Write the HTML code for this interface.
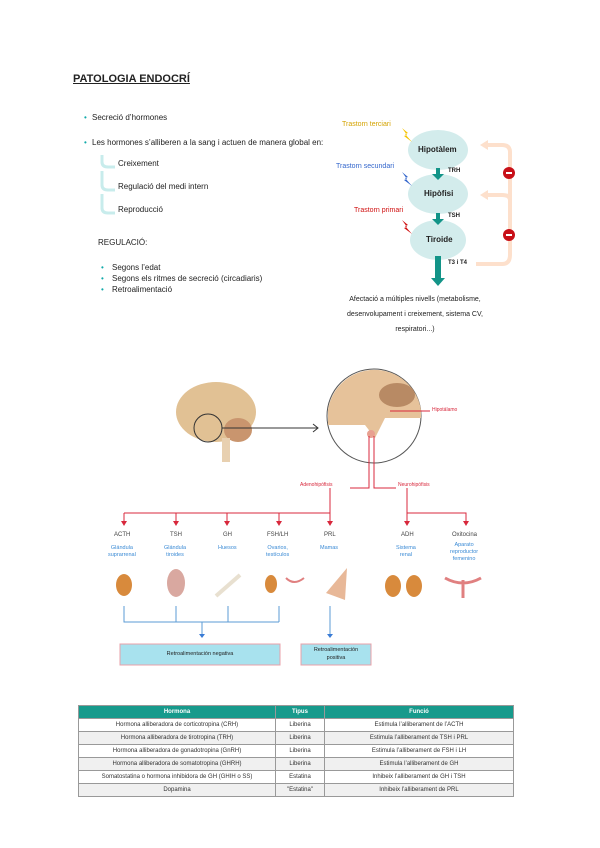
<!DOCTYPE html>
<html><head><meta charset="utf-8"><style>
body{margin:0;background:#fff;font-family:"Liberation Sans",sans-serif;}
.p{position:relative;width:600px;height:848px;overflow:hidden;}
.t{position:absolute;white-space:nowrap;color:#222;font-size:8px;}
table{position:absolute;left:78px;top:705px;width:436px;border-collapse:collapse;font-size:6px;}
td,th{border:1px solid #999;height:12px;padding:0;text-align:center;color:#333;}
th{background:#179a8c;color:#fff;font-weight:bold;}
tr:nth-child(odd) td{background:#f0f0f0;}
</style></head><body><div class="p">
<div class="t" style="left:73px;top:73px;font-size:11px;font-weight:bold;text-decoration:underline">PATOLOGIA ENDOCRÍ</div>
<div class="t" style="left:84px;top:113px;color:#1aa;">•</div><div class="t" style="left:92px;top:113px">Secreció d’hormones</div>
<div class="t" style="left:84px;top:138px;color:#1aa;">•</div><div class="t" style="left:92px;top:138px">Les hormones s’alliberen a la sang i actuen de manera global en:</div>
<div class="t" style="left:118px;top:159px">Creixement</div>
<div class="t" style="left:118px;top:182px">Regulació del medi intern</div>
<div class="t" style="left:118px;top:205px">Reproducció</div>
<div class="t" style="left:98px;top:238px">REGULACIÓ:</div>
<div class="t" style="left:101px;top:263px;color:#1aa">•</div><div class="t" style="left:112px;top:263px">Segons l’edat</div>
<div class="t" style="left:101px;top:274px;color:#1aa">•</div><div class="t" style="left:112px;top:274px">Segons els ritmes de secreció (circadiaris)</div>
<div class="t" style="left:101px;top:285px;color:#1aa">•</div><div class="t" style="left:112px;top:285px">Retroalimentació</div>
<svg width="600" height="848" style="position:absolute;left:0;top:0">
<g fill="none" stroke="#c8ecec" stroke-width="3">
<path d="M102 155 V162 Q102 167 108 167 H115"/><path d="M102 171 V185 Q102 190 108 190 H115"/><path d="M102 194 V208 Q102 213 108 213 H115"/></g>
<g fill="#d3ecec"><ellipse cx="438" cy="150" rx="30" ry="20"/><ellipse cx="438" cy="194" rx="30" ry="20"/><ellipse cx="438" cy="240" rx="28" ry="20"/></g>
<g fill="#139488"><rect x="436" y="168" width="4" height="6"/><path d="M432 174h12l-6 6z"/><rect x="436" y="213" width="4" height="6"/><path d="M432 219h12l-6 6z"/><rect x="435" y="256" width="6" height="22"/><path d="M431 278h14l-7 8z"/></g>
<g fill="none" stroke="#fde0cc" stroke-width="4"><path d="M476 264 H502 Q510 264 510 255 V152 Q510 145 502 145 H485"/><path d="M510 200 Q510 195 502 195 H485"/></g>
<path d="M480 145 l8-5v10z M480 195 l8-5v10z" fill="#fde0cc"/>
<circle cx="509" cy="173" r="6" fill="#c81018"/><circle cx="509" cy="235" r="6" fill="#c81018"/>
<rect x="506" y="172" width="6" height="2" fill="#fff"/><rect x="506" y="234" width="6" height="2" fill="#fff"/>
<path d="M402 128 l6 5-3 1 7 8-8-6 3-1z" fill="#f5c400"/>
<path d="M402 172 l6 5-3 1 7 8-8-6 3-1z" fill="#3366cc"/>
<path d="M402 220 l6 5-3 1 7 8-8-6 3-1z" fill="#d01010"/>
<!-- brain -->
<ellipse cx="216" cy="412" rx="40" ry="30" fill="#e1c194"/>
<ellipse cx="238" cy="430" rx="14" ry="12" fill="#c9956e"/>
<rect x="222" y="438" width="8" height="24" fill="#e8d0b0"/>
<circle cx="208" cy="428" r="14" fill="none" stroke="#333"/>
<path d="M222 428 H318" stroke="#333"/><path d="M313 424 l5 4-5 4" fill="none" stroke="#333"/>
<circle cx="374" cy="416" r="47" fill="#fff" stroke="#555"/>
<path d="M328 410 A47 47 0 0 1 421 410 L421 418 H385 L375 438 L365 425 L328 425Z" fill="#e6c29a"/>
<ellipse cx="397" cy="395" rx="18" ry="12" fill="#b88a64"/>
<circle cx="371" cy="434" r="4" fill="#e8a090"/>
<g stroke="#d8283c" fill="none" stroke-width="1"><path d="M390 411 H430"/><path d="M369 436 V488 H350"/><path d="M374 436 V488 H396"/>
<path d="M330 488 V522 M124 513 H330 M124 513 V522 M176 513 V522 M227 513 V522 M279 513 V522"/>
<path d="M407 488 V522 M407 513 H466 V522"/></g>
<g fill="#d8283c"><path d="M121 521h6l-3 5z M173 521h6l-3 5z M224 521h6l-3 5z M276 521h6l-3 5z M327 521h6l-3 5z M404 521h6l-3 5z M463 521h6l-3 5z"/></g>
<g fill="#d88a3c"><ellipse cx="124" cy="585" rx="8" ry="11"/><ellipse cx="393" cy="586" rx="8" ry="11"/><ellipse cx="414" cy="586" rx="8" ry="11"/><ellipse cx="271" cy="584" rx="6" ry="9"/></g>
<ellipse cx="176" cy="583" rx="9" ry="14" fill="#d9a8a0"/>
<path d="M216 596 L240 575" stroke="#e8e0d0" stroke-width="4"/>
<path d="M347 568 L326 593 L345 600Z" fill="#e8b898"/>
<path d="M286 578 q8 8 18 0" stroke="#e08080" fill="none" stroke-width="2"/>
<path d="M445 578 q18 10 36 0 M463 580 v18" stroke="#e08080" fill="none" stroke-width="3"/>
<g stroke="#5b9bd5" fill="none"><path d="M124 606 V622 H279 M176 606 V622 M228 606 V622 M279 606 V622 M202 622 V634 M330 606 V634"/></g>
<path d="M199 634h6l-3 4z M327 634h6l-3 4z" fill="#3a7bd5"/>
<rect x="120" y="644" width="160" height="21" fill="#a8e2ee" stroke="#e8a0a8"/>
<rect x="301" y="644" width="70" height="21" fill="#a8e2ee" stroke="#e8a0a8"/>
</svg>
<div class="t" style="left:342px;top:121px;color:#d4a300;font-size:7px">Trastorn terciari</div>
<div class="t" style="left:336px;top:163px;color:#3366cc;font-size:7px">Trastorn secundari</div>
<div class="t" style="left:354px;top:207px;color:#d01010;font-size:7px">Trastorn primari</div>
<div class="t" style="left:418px;top:145px;font-weight:bold;font-size:8px">Hipotàlem</div>
<div class="t" style="left:424px;top:189px;font-weight:bold;font-size:8px">Hipòfisi</div>
<div class="t" style="left:426px;top:235px;font-weight:bold;font-size:8px">Tiroide</div>
<div class="t" style="left:448px;top:168px;font-size:6px;font-weight:bold">TRH</div>
<div class="t" style="left:448px;top:213px;font-size:6px;font-weight:bold">TSH</div>
<div class="t" style="left:448px;top:260px;font-size:6px;font-weight:bold">T3 i T4</div>
<div class="t" style="left:335px;top:292px;width:160px;text-align:center;font-size:7px;line-height:15px;white-space:normal">Afectació a múltiples nivells (metabolisme, desenvolupament i creixement, sistema CV, respiratori...)</div>
<div class="t" style="left:432px;top:407px;color:#d8283c;font-size:5px">Hipotálamo</div>
<div class="t" style="left:300px;top:482px;color:#d8283c;font-size:5px">Adenohipófisis</div>
<div class="t" style="left:398px;top:482px;color:#d8283c;font-size:5px">Neurohipófisis</div>
<div class="t" style="left:114px;top:532px;font-size:6px;color:#444">ACTH</div>
<div class="t" style="left:170px;top:532px;font-size:6px;color:#444">TSH</div>
<div class="t" style="left:223px;top:532px;font-size:6px;color:#444">GH</div>
<div class="t" style="left:267px;top:532px;font-size:6px;color:#444">FSH/LH</div>
<div class="t" style="left:324px;top:532px;font-size:6px;color:#444">PRL</div>
<div class="t" style="left:401px;top:532px;font-size:6px;color:#444">ADH</div>
<div class="t" style="left:452px;top:532px;font-size:6px;color:#444">Oxitocina</div>
<div class="t" style="left:108px;top:545px;font-size:5.5px;color:#3a8ad5;text-align:center;line-height:7px">Glándula<br>suprarrenal</div>
<div class="t" style="left:164px;top:545px;font-size:5.5px;color:#3a8ad5;text-align:center;line-height:7px">Glándula<br>tiroides</div>
<div class="t" style="left:218px;top:545px;font-size:5.5px;color:#3a8ad5">Huesos</div>
<div class="t" style="left:266px;top:545px;font-size:5.5px;color:#3a8ad5;text-align:center;line-height:7px">Ovarios,<br>testículos</div>
<div class="t" style="left:320px;top:545px;font-size:5.5px;color:#3a8ad5">Mamas</div>
<div class="t" style="left:396px;top:545px;font-size:5.5px;color:#3a8ad5;text-align:center;line-height:7px">Sistema<br>renal</div>
<div class="t" style="left:450px;top:542px;font-size:5.5px;color:#3a8ad5;text-align:center;line-height:7px">Aparato<br>reproductor<br>femenino</div>
<div class="t" style="left:120px;top:651px;width:160px;text-align:center;font-size:5.5px">Retroalimentación negativa</div>
<div class="t" style="left:301px;top:646px;width:70px;text-align:center;font-size:5.5px;line-height:8px">Retroalimentación<br>positiva</div>
<table>
<tr><th style="width:196px">Hormona</th><th style="width:48px">Tipus</th><th>Funció</th></tr>
<tr><td>Hormona alliberadora de corticotropina (CRH)</td><td>Liberina</td><td>Estimula l’alliberament de l’ACTH</td></tr>
<tr><td>Hormona alliberadora de tirotropina (TRH)</td><td>Liberina</td><td>Estimula l’alliberament de TSH i PRL</td></tr>
<tr><td>Hormona alliberadora de gonadotropina (GnRH)</td><td>Liberina</td><td>Estimula l’alliberament de FSH i LH</td></tr>
<tr><td>Hormona alliberadora de somatotropina (GHRH)</td><td>Liberina</td><td>Estimula l’alliberament de GH</td></tr>
<tr><td>Somatostatina o hormona inhibidora de GH (GHIH o SS)</td><td>Estatina</td><td>Inhibeix l’alliberament de GH i TSH</td></tr>
<tr><td>Dopamina</td><td>"Estatina"</td><td>Inhibeix l’alliberament de PRL</td></tr>
</table>
</div></body></html>
